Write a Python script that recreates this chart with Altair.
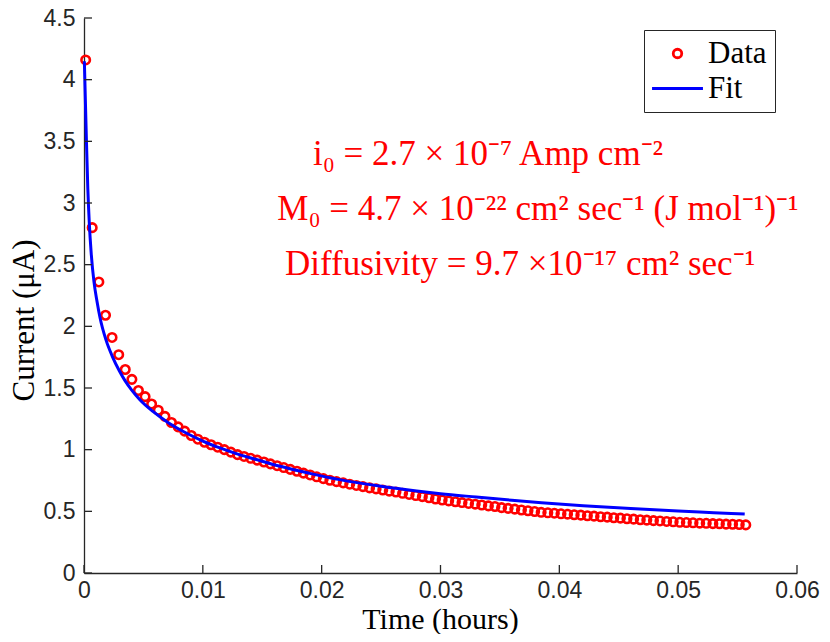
import altair as alt
import pandas as pd

# ---------------- data ----------------
time_hours = [
    0.00014, 0.00069, 0.00125, 0.00181, 0.00236, 0.00292, 0.00347, 0.00403, 0.00458, 0.00514,
    0.00569, 0.00625, 0.00681, 0.00736, 0.00792, 0.00847, 0.00903, 0.00958, 0.01014, 0.01069,
    0.01125, 0.01181, 0.01236, 0.01292, 0.01347, 0.01403, 0.01458, 0.01514, 0.01569, 0.01625,
    0.01681, 0.01736, 0.01792, 0.01847, 0.01903, 0.01958, 0.02014, 0.02069, 0.02125, 0.02181,
    0.02236, 0.02292, 0.02347, 0.02403, 0.02458, 0.02514, 0.02569, 0.02625, 0.02681, 0.02736,
    0.02792, 0.02847, 0.02903, 0.02958, 0.03014, 0.03069, 0.03125, 0.03181, 0.03236, 0.03292,
    0.03347, 0.03403, 0.03458, 0.03514, 0.03569, 0.03625, 0.03681, 0.03736, 0.03792, 0.03847,
    0.03903, 0.03958, 0.04014, 0.04069, 0.04125, 0.04181, 0.04236, 0.04292, 0.04347, 0.04403,
    0.04458, 0.04514, 0.04569, 0.04625, 0.04681, 0.04736, 0.04792, 0.04847, 0.04903, 0.04958,
    0.05014, 0.05069, 0.05125, 0.05181, 0.05236, 0.05292, 0.05347, 0.05403, 0.05458, 0.05514,
    0.05569,
]
current_uA = [
    4.16, 2.80, 2.36, 2.09, 1.91, 1.77, 1.65, 1.57, 1.48, 1.43,
    1.37, 1.32, 1.27, 1.22, 1.185, 1.15, 1.115, 1.085, 1.06, 1.04,
    1.02, 1.00, 0.98, 0.96, 0.945, 0.93, 0.915, 0.90, 0.885, 0.87,
    0.855, 0.84, 0.825, 0.81, 0.795, 0.78, 0.765, 0.752, 0.741, 0.731,
    0.72, 0.71, 0.70, 0.69, 0.682, 0.673, 0.664, 0.657, 0.646, 0.637,
    0.628, 0.619, 0.610, 0.600, 0.592, 0.585, 0.578, 0.571, 0.564, 0.558,
    0.551, 0.544, 0.539, 0.530, 0.524, 0.518, 0.511, 0.505, 0.499, 0.492,
    0.488, 0.485, 0.480, 0.477, 0.472, 0.469, 0.464, 0.461, 0.456, 0.453,
    0.448, 0.445, 0.440, 0.437, 0.432, 0.429, 0.425, 0.422, 0.418, 0.415,
    0.411, 0.409, 0.407, 0.404, 0.403, 0.400, 0.399, 0.396, 0.395, 0.393,
    0.390,
]
fit_time_hours = [
    0.00003, 0.00017, 0.00032, 0.00045, 0.0006, 0.00084, 0.0011, 0.00135, 0.00185, 0.00239,
    0.00297, 0.00345, 0.004, 0.0047, 0.0058, 0.007, 0.0086, 0.01, 0.0115, 0.013,
    0.0145, 0.0165, 0.019, 0.0215, 0.025, 0.028, 0.03, 0.033, 0.036, 0.0385,
    0.042, 0.046, 0.05, 0.053, 0.0556,
]
fit_current_uA = [
    4.15, 3.63, 3.12, 2.83, 2.60, 2.36, 2.20, 2.07, 1.89, 1.755,
    1.64, 1.56, 1.485, 1.405, 1.31, 1.225, 1.135, 1.07, 1.012, 0.962,
    0.92, 0.865, 0.808, 0.757, 0.703, 0.665, 0.643, 0.616, 0.59, 0.570,
    0.546, 0.523, 0.502, 0.489, 0.478,
]
series_names = ["Data", "Fit"]
x_tick_values = [0, 0.01, 0.02, 0.03, 0.04, 0.05, 0.06]
y_tick_values = [0, 0.5, 1, 1.5, 2, 2.5, 3, 3.5, 4, 4.5]
annotation_lines = [
    "i\u2080 = 2.7 \u00d7 10\u207b\u2077 Amp cm\u207b\u00b2",
    "M\u2080 = 4.7 \u00d7 10\u207b\u00b2\u00b2 cm\u00b2 sec\u207b\u00b9 (J mol\u207b\u00b9)\u207b\u00b9",
    "Diffusivity = 9.7 \u00d710\u207b\u00b9\u2077 cm\u00b2 sec\u207b\u00b9",
]

# ---------------- styling ----------------
W, H = 713, 555
AXIS_COLOR = "#262626"
SERIF = "Liberation Serif"
SANS = "Liberation Sans"

data_df = pd.DataFrame({"t": time_hours, "I": current_uA, "series": series_names[0]})
fit_df = pd.DataFrame({"t": fit_time_hours, "I": fit_current_uA, "series": series_names[1]})

x_scale = alt.Scale(domain=[0, 0.06], nice=False, zero=False)
y_scale = alt.Scale(domain=[0, 4.5], nice=False)
color_scale = alt.Scale(domain=series_names, range=["#FF0000", "#0000FF"])
shape_scale = alt.Scale(domain=series_names, range=["circle", "M-6,0H6"])

x_axis = alt.Axis(
    values=x_tick_values, ticks=False, grid=False,
    domainColor=AXIS_COLOR, domainWidth=1.3,
    labelFont=SANS, labelFontSize=23, labelColor=AXIS_COLOR, labelPadding=6,
    labelExpr="format(datum.value, '~g')", labelFlush=False, labelOverlap=False,
    title="Time (hours)", titleFont=SERIF, titleFontSize=30, titleFontWeight="normal",
    titleColor="black", titleX=356, titleY=55, titleBaseline="alphabetic", titleAlign="center",
)
y_axis = alt.Axis(
    values=y_tick_values, ticks=False, grid=False,
    domainColor=AXIS_COLOR, domainWidth=1.3,
    labelFont=SANS, labelFontSize=23, labelColor=AXIS_COLOR, labelPadding=9,
    labelExpr="format(datum.value, '~g')", labelFlush=False, labelOverlap=False,
    title="Current (\u03bcA)", titleFont=SERIF, titleFontSize=31, titleFontWeight="normal",
    titleColor="black", titleX=-60, titleY=302, titleAngle=270,
    titleBaseline="middle", titleAlign="center",
)

legend = alt.Legend(
    title=None, orient="none", legendX=560, legendY=12, padding=8,
    strokeColor=AXIS_COLOR, fillColor="white",
    labelFont=SERIF, labelFontSize=31, labelColor="black", labelOffset=15,
    symbolOffset=10, symbolSize=72, symbolStrokeWidth=2.8, rowPadding=3,
)

x_enc = alt.X("t:Q", scale=x_scale, axis=x_axis)
y_enc = alt.Y("I:Q", scale=y_scale, axis=y_axis)

points = alt.Chart(data_df).mark_point(filled=False, size=72, strokeWidth=2.6, opacity=1).encode(
    x=x_enc, y=y_enc,
    color=alt.Color("series:N", scale=color_scale, legend=legend),
    shape=alt.Shape("series:N", scale=shape_scale, legend=legend),
)
fit_line = alt.Chart(fit_df).mark_line(strokeWidth=3, interpolate="monotone").encode(
    x=x_enc, y=y_enc,
    color=alt.Color("series:N", scale=color_scale, legend=legend),
)

x_ticks = alt.Chart(pd.DataFrame({"t": x_tick_values})).mark_rule(
    color=AXIS_COLOR, strokeWidth=1.3
).encode(x=x_enc, y=alt.value(H), y2=alt.value(H - 8))
y_ticks = alt.Chart(pd.DataFrame({"I": y_tick_values})).mark_rule(
    color=AXIS_COLOR, strokeWidth=1.3
).encode(y=y_enc, x=alt.value(0), x2=alt.value(8))

anchors = [(0.0340, 3.40), (0.0382, 2.95), (0.0367, 2.505)]
texts = []
for line, (ax, ay) in zip(annotation_lines, anchors):
    texts.append(
        alt.Chart(pd.DataFrame({"label": [line]})).mark_text(
            font=SERIF, fontSize=35, color="#FF0000", align="center", baseline="middle"
        ).encode(x=alt.datum(ax), y=alt.datum(ay), text="label:N")
    )

chart = alt.layer(points, fit_line, x_ticks, y_ticks, *texts).properties(
    width=W, height=H,
    padding={"left": 76, "top": 10, "right": 25, "bottom": 61},
    autosize=alt.AutoSizeParams(type="none"),
).configure_view(stroke=None)

chart.save("out.html", embed_options={"renderer": "svg", "actions": False})
